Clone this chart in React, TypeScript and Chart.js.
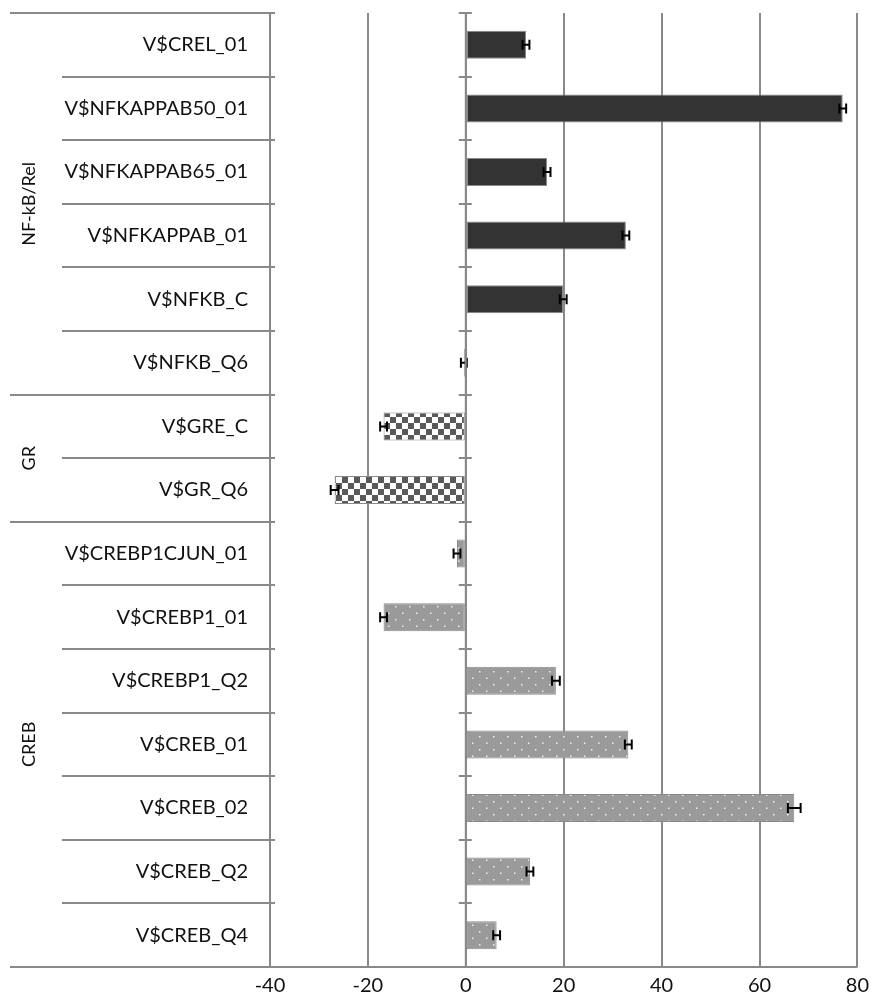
import React, { useEffect, useRef } from "react";
import { Chart, registerables } from "chart.js";

Chart.register(...registerables);

const categories = [
  "V$CREL_01",
  "V$NFKAPPAB50_01",
  "V$NFKAPPAB65_01",
  "V$NFKAPPAB_01",
  "V$NFKB_C",
  "V$NFKB_Q6",
  "V$GRE_C",
  "V$GR_Q6",
  "V$CREBP1CJUN_01",
  "V$CREBP1_01",
  "V$CREBP1_Q2",
  "V$CREB_01",
  "V$CREB_02",
  "V$CREB_Q2",
  "V$CREB_Q4",
];
const values = [12.3, 77.0, 16.6, 32.7, 19.9, -0.4, -16.8, -26.8, -1.8, -16.8, 18.4, 33.2, 67.1, 13.1, 6.3];
const errors = [0.7, 0.7, 0.7, 0.7, 0.7, 0.6, 0.7, 0.8, 0.7, 0.7, 0.8, 0.7, 1.3, 0.7, 0.7];
const groupOf = [0, 0, 0, 0, 0, 0, 1, 1, 2, 2, 2, 2, 2, 2, 2];
const groups = [
  { name: "NF-kB/Rel", start: 0, end: 5 },
  { name: "GR", start: 6, end: 7 },
  { name: "CREB", start: 8, end: 14 },
];
const xMin = -40;
const xMax = 80;
const xStep = 20;

const FONT = "Lato, 'Open Sans', sans-serif";

function makeChecker(): CanvasPattern | string {
  const c = document.createElement("canvas");
  c.width = 12;
  c.height = 12;
  const g = c.getContext("2d");
  if (!g) return "#777";
  g.fillStyle = "#ffffff";
  g.fillRect(0, 0, 12, 12);
  g.fillStyle = "#595959";
  g.fillRect(0, 0, 6, 6);
  g.fillRect(6, 6, 6, 6);
  return g.createPattern(c, "repeat") || "#777";
}

function makeDots(): CanvasPattern | string {
  const c = document.createElement("canvas");
  c.width = 14;
  c.height = 13;
  const g = c.getContext("2d");
  if (!g) return "#999";
  g.fillStyle = "#9a9a9a";
  g.fillRect(0, 0, 14, 13);
  g.fillStyle = "#eeeeee";
  g.fillRect(3, 3, 1.5, 1.5);
  g.fillRect(10, 9.5, 1.5, 1.5);
  return g.createPattern(c, "repeat") || "#999";
}

export default function App() {
  const ref = useRef<HTMLCanvasElement | null>(null);

  useEffect(() => {
    if (!ref.current) return;
    const checker = makeChecker();
    const dots = makeDots();
    const fills = ["#333333", checker, dots];
    const bg = values.map((_, i) => fills[groupOf[i]]);

    const decor = {
      id: "decor",
      afterDatasetsDraw(chart: any) {
        const ctx = chart.ctx;
        const xs = chart.scales.x;
        const meta = chart.getDatasetMeta(0);
        ctx.save();
        ctx.strokeStyle = "#000";
        ctx.lineWidth = 2;
        meta.data.forEach((bar: any, i: number) => {
          const y = bar.y;
          const l = xs.getPixelForValue(values[i] - errors[i]);
          const r = xs.getPixelForValue(values[i] + errors[i]);
          ctx.beginPath();
          ctx.moveTo(l, y);
          ctx.lineTo(r, y);
          ctx.moveTo(l, y - 5);
          ctx.lineTo(l, y + 5);
          ctx.moveTo(r, y - 5);
          ctx.lineTo(r, y + 5);
          ctx.stroke();
        });
        ctx.restore();
      },
      afterDraw(chart: any) {
        const ctx = chart.ctx;
        const area = chart.chartArea;
        const xs = chart.scales.x;
        const n = categories.length;
        const ch = (area.bottom - area.top) / n;
        const x0 = xs.getPixelForValue(0);
        ctx.save();
        ctx.strokeStyle = "#898989";
        ctx.lineWidth = 2;
        const groupStarts = groups.map((g) => g.start);
        for (let i = 0; i < n; i++) {
          const y = Math.round(area.top + i * ch);
          const lx = groupStarts.includes(i) ? 10 : 62;
          ctx.beginPath();
          ctx.moveTo(lx, y);
          ctx.lineTo(area.left + 5, y);
          ctx.stroke();
        }
        for (let i = 0; i <= n; i++) {
          const y = Math.round(area.top + i * ch);
          ctx.beginPath();
          ctx.moveTo(x0 - 7, y);
          ctx.lineTo(x0 + 6, y);
          ctx.stroke();
        }
        ctx.beginPath();
        ctx.moveTo(x0, area.top);
        ctx.lineTo(x0, area.bottom);
        ctx.stroke();
        ctx.beginPath();
        ctx.moveTo(10, area.bottom);
        ctx.lineTo(area.right, area.bottom);
        ctx.stroke();
        ctx.fillStyle = "#111";
        ctx.font = `18px ${FONT}`;
        ctx.textAlign = "center";
        ctx.textBaseline = "middle";
        groups.forEach((g) => {
          const cy = area.top + ((g.start + g.end + 1) / 2) * ch;
          ctx.save();
          ctx.translate(29, cy);
          ctx.rotate(-Math.PI / 2);
          ctx.fillText(g.name, 0, 0);
          ctx.restore();
        });
        ctx.restore();
      },
    };

    const chart = new Chart(ref.current, {
      type: "bar",
      data: {
        labels: categories,
        datasets: [
          {
            data: values,
            backgroundColor: bg as any,
            borderColor: "#8a8a8a",
            borderWidth: 1,
            borderSkipped: false,
            barPercentage: 0.44,
            categoryPercentage: 1,
          },
        ],
      },
      options: {
        indexAxis: "y",
        animation: false,
        responsive: false,
        maintainAspectRatio: false,
        layout: { padding: { top: 0, right: 10, left: 0, bottom: 0 } },
        plugins: { legend: { display: false }, tooltip: { enabled: false } },
        scales: {
          x: {
            min: xMin,
            max: xMax,
            ticks: {
              stepSize: xStep,
              color: "#111",
              font: { size: 20, family: FONT },
              padding: 7,
            },
            grid: { color: "#898989", lineWidth: 2, drawTicks: false },
            border: { display: false },
            afterFit(scale: any) {
              scale.height = 37;
            },
          },
          y: {
            type: "category",
            offset: true,
            ticks: {
              color: "#111",
              font: { size: 20, family: FONT },
              padding: 22,
              autoSkip: false,
            },
            grid: { display: false, drawTicks: false },
            border: { display: false },
            afterFit(scale: any) {
              scale.width = 270;
            },
          },
        },
      },
      plugins: [decor],
    });
    return () => chart.destroy();
  }, []);

  return (
    <div style={{ position: "absolute", left: 0, top: 0, width: 871, height: 1004, overflow: "hidden", background: "#fff" }}>
      <canvas
        ref={ref}
        width={876}
        height={1025}
        style={{ display: "block", position: "absolute", left: 0, top: -21 }}
      />
    </div>
  );
}
